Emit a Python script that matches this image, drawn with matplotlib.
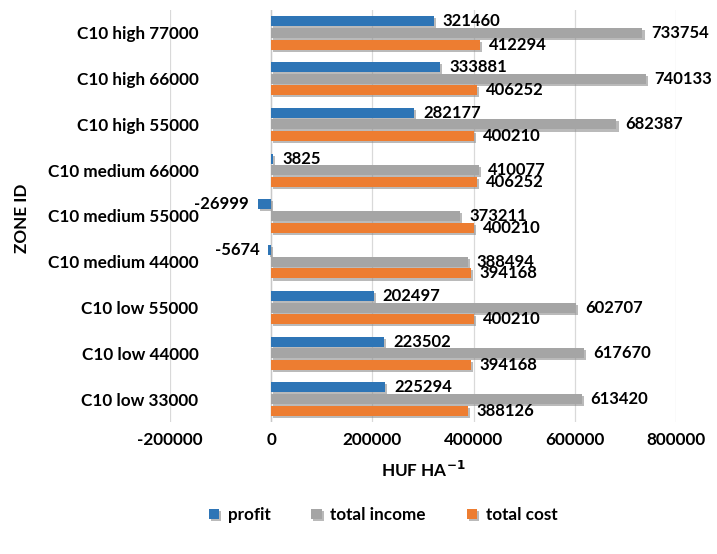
import matplotlib
matplotlib.use("Agg")
import matplotlib.pyplot as plt
import matplotlib.patheffects as pe
import numpy as np

zones = ['C10 low 33000', 'C10 low 44000', 'C10 low 55000',
         'C10 medium 44000', 'C10 medium 55000', 'C10 medium 66000',
         'C10 high 55000', 'C10 high 66000', 'C10 high 77000']
profit = [225294, 223502, 202497, -5674, -26999, 3825, 282177, 333881, 321460]
total_income = [613420, 617670, 602707, 388494, 373211, 410077, 682387, 740133, 733754]
total_cost = [388126, 394168, 400210, 394168, 400210, 406252, 400210, 406252, 412294]

plt.rcParams['font.family'] = ['Lato', 'DejaVu Sans']
plt.rcParams['font.weight'] = 'bold'
fs = 12.3

fig = plt.figure(figsize=(7.17, 5.54), dpi=100)
ax = fig.add_axes([170 / 717, 1 - 422 / 554, 506 / 717, 412 / 554])

y = np.arange(len(zones))
step = 0.255
shadow = [pe.SimplePatchShadow(offset=(1.5, -1.5), shadow_rgbFace='#8c8c8c', alpha=0.6), pe.Normal()]

series = [(profit, '#2e75b6', 'profit', step),
          (total_income, '#a5a5a5', 'total income', 0),
          (total_cost, '#ed7d31', 'total cost', -step)]

for vals, col, name, off in series:
    bars = ax.barh(y + off, vals, height=0.22, color=col, label=name, zorder=3)
    for b in bars:
        b.set_path_effects(shadow)
    # value labels at the bar ends
    for yy, v in zip(y + off, vals):
        if v >= 0:
            ax.annotate(str(v), (v, yy), xytext=(6.5, 0), textcoords='offset points',
                        va='center', ha='left', fontsize=12, fontweight='bold', zorder=4)
        else:
            ax.annotate(str(v), (v, yy), xytext=(-6, 0), textcoords='offset points',
                        va='center', ha='right', fontsize=12, fontweight='bold', zorder=4)

ax.set_xlim(-200000, 800000)
ax.set_ylim(-0.5, len(zones) - 0.5)
ax.set_xticks([-200000, 0, 200000, 400000, 600000, 800000])
ax.set_xticklabels(['-200000', '0', '200000', '400000', '600000', '800000'])
ax.set_yticks(y)
ax.set_yticklabels(zones)
ax.tick_params(axis='x', length=0, labelsize=fs, pad=7)
ax.tick_params(axis='y', length=0, labelsize=fs, pad=-20.5)
ax.grid(axis='x', color='#d9d9d9', lw=0.9, zorder=0)
for s in ax.spines.values():
    s.set_visible(False)
ax.axvline(0, color='#c8c8c8', lw=1, zorder=2)

ax.set_xlabel('HUF HA$^{\\mathbf{-1}}$', fontsize=fs, fontweight='bold', labelpad=9)
fig.text(22 / 717, 1 - 218 / 554, 'ZONE ID', rotation=90, ha='center', va='center',
         fontsize=fs, fontweight='bold')

fig.legend(loc='center', bbox_to_anchor=(383 / 717, 1 - 515 / 554), ncol=3, frameon=False,
           fontsize=fs, handlelength=0.6, handleheight=0.6, columnspacing=2.4, handletextpad=0.5)

fig.savefig('out.png', dpi=100)
